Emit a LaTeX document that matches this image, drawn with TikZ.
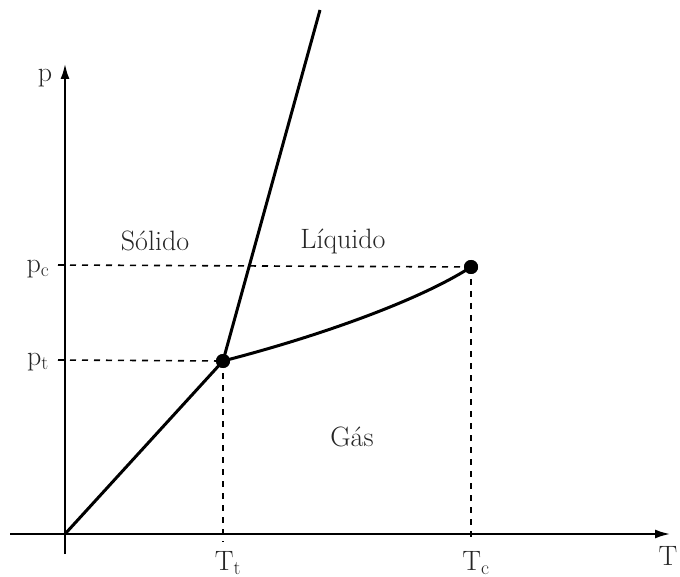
\documentclass[tikz,border=0pt]{standalone}
\usepackage{fontspec}
\setmainfont{Latin Modern Roman}
\usetikzlibrary{arrows.meta}
\newcommand{\labfont}{\fontsize{28pt}{32pt}\selectfont}
\begin{document}
\begin{tikzpicture}[x=1pt,y=-1pt,
  axis/.style={line width=1.9pt,-{Latex[length=15pt,width=9pt]}},
  curve/.style={line width=3pt},
  guide/.style={line width=1.6pt,dash pattern=on 6pt off 6pt},
  dot/.style={circle,fill=black,inner sep=0pt,minimum size=14pt},
  lab/.style={font=\labfont,inner sep=0pt,text=black!85}]
\useasboundingbox (0,0) rectangle (680,577);
\coordinate (O) at (65,534);
\coordinate (ybot) at (65,554);
\coordinate (ytop) at (65,64);
\coordinate (xl) at (10,534);
\coordinate (xr) at (670,534);
\node[dot] (tp) at (223,361) {};
\node[dot] (cp) at (471,267) {};
\coordinate (top) at (320,10);
\coordinate (pcl) at (58,265);
\coordinate (ptl) at (58,360);
\coordinate (ttb) at (223,542);
\coordinate (tcb) at (471,542);
% axes
\draw[axis] (ybot) -- (ytop);
\draw[axis] (xl) -- (xr);
% guides
\draw[guide] (pcl) -- (cp.center);
\draw[guide] (ptl) -- (tp.center);
\draw[guide] (tp.center) -- (ttb);
\draw[guide] (cp.center) -- (tcb);
% phase boundaries
\draw[curve] (O) -- (tp.center);
\draw[curve] (tp.center) -- (top);
\draw[curve] (tp.center) .. controls (320,336) and (420,300) .. (cp.center);
\node[dot] at (tp) {};
\node[dot] at (cp) {};
% labels
\node[lab] (p) at (45,78) {p};
\node[lab] (T) at (668,556) {T};
\node[lab] (pc) at (38,269) {p$_{\mathrm c}$};
\node[lab] (pt) at (38,362) {p$_{\mathrm t}$};
\node[lab] (Tt) at (228,563) {T$_{\mathrm t}$};
\node[lab] (Tc) at (476,563) {T$_{\mathrm c}$};
\node[lab] (sol) at (155,241) {Sólido};
\node[lab] (liq) at (343,241) {Líquido};
\node[lab] (gas) at (352,437) {Gás};
\end{tikzpicture}
\end{document}
